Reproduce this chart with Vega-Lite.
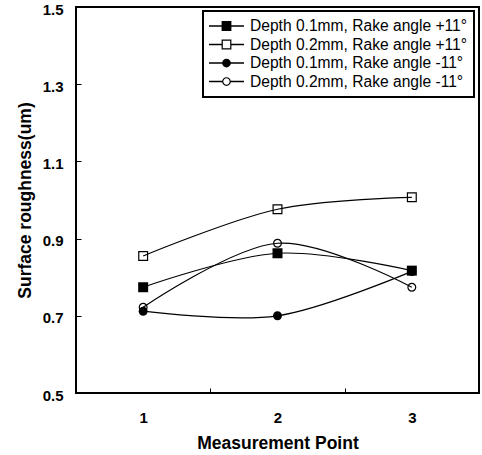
{
  "$schema": "https://vega.github.io/schema/vega-lite/v6.json",
  "width": 403,
  "height": 386,
  "autosize": "none",
  "padding": {"left": 76, "top": 7, "right": 3, "bottom": 62},
  "background": "white",
  "config": {
    "view": {"stroke": "black", "strokeWidth": 2},
    "font": "Liberation Sans",
    "legend": {"strokeWidth": 2},
    "axis": {"grid": false, "domain": false, "labelFont": "Liberation Sans", "labelFontWeight": "bold", "labelFontSize": 15, "labelColor": "black", "titleFont": "Liberation Sans", "titleFontWeight": "bold", "titleFontSize": 17.5, "titleColor": "black"}
  },
  "data": {
    "values": [
      {"point": 1, "roughness": 0.774, "series": "Depth 0.1mm, Rake angle +11°"},
      {"point": 2, "roughness": 0.862, "series": "Depth 0.1mm, Rake angle +11°"},
      {"point": 3, "roughness": 0.817, "series": "Depth 0.1mm, Rake angle +11°"},
      {"point": 1, "roughness": 0.855, "series": "Depth 0.2mm, Rake angle +11°"},
      {"point": 2, "roughness": 0.976, "series": "Depth 0.2mm, Rake angle +11°"},
      {"point": 3, "roughness": 1.007, "series": "Depth 0.2mm, Rake angle +11°"},
      {"point": 1, "roughness": 0.712, "series": "Depth 0.1mm, Rake angle -11°"},
      {"point": 2, "roughness": 0.700, "series": "Depth 0.1mm, Rake angle -11°"},
      {"point": 3, "roughness": 0.815, "series": "Depth 0.1mm, Rake angle -11°"},
      {"point": 1, "roughness": 0.722, "series": "Depth 0.2mm, Rake angle -11°"},
      {"point": 2, "roughness": 0.888, "series": "Depth 0.2mm, Rake angle -11°"},
      {"point": 3, "roughness": 0.774, "series": "Depth 0.2mm, Rake angle -11°"}
    ]
  },
  "encoding": {
    "x": {"field": "point", "type": "quantitative", "scale": {"domain": [0.5, 3.5], "nice": false, "zero": false}},
    "y": {"field": "roughness", "type": "quantitative", "scale": {"domain": [0.5, 1.5], "nice": false, "zero": false}}
  },
  "layer": [
    {
      "mark": {"type": "line", "interpolate": "cardinal", "stroke": "black", "strokeWidth": 1.2},
      "encoding": {
        "detail": {"field": "series"},
        "x": {"field": "point", "type": "quantitative", "axis": {"values": [1, 2, 3], "format": "d", "ticks": false, "labelPadding": 17, "title": "Measurement Point", "titlePadding": 9}},
        "y": {"field": "roughness", "type": "quantitative", "axis": {"values": [0.5, 0.7, 0.9, 1.1, 1.3, 1.5], "format": ".1f", "ticks": false, "labelPadding": 13, "labelOffset": 2, "title": "Surface roughness(um)", "titlePadding": 8}}
      }
    },
    {
      "mark": {"type": "point", "filled": true, "fill": "black", "size": 100, "opacity": 1},
      "encoding": {
        "x": {"field": "point", "type": "quantitative", "axis": {"values": [1.5, 2.5], "labels": false, "tickSize": -5, "tickColor": "black", "tickWidth": 1, "title": null, "orient": "bottom"}},
        "y": {"field": "roughness", "type": "quantitative", "axis": {"values": [0.5, 0.7, 0.9, 1.1, 1.3, 1.5], "labels": false, "tickSize": -5, "tickColor": "black", "tickWidth": 1, "title": null, "orient": "left"}},
        "shape": {
          "field": "series",
          "type": "nominal",
          "legend": null,
          "scale": {
            "domain": ["Depth 0.1mm, Rake angle +11°", "Depth 0.2mm, Rake angle +11°", "Depth 0.1mm, Rake angle -11°", "Depth 0.2mm, Rake angle -11°"],
            "range": [
              "M-1,-1H1V1H-1Z",
              "M-1,-1H1V1H-1ZM-0.76,-0.76V0.76H0.76V-0.76Z",
              "M-0.9,0A0.9,0.9 0 1,1 0.9,0A0.9,0.9 0 1,1 -0.9,0Z",
              "M-0.9,0A0.9,0.9 0 1,1 0.9,0A0.9,0.9 0 1,1 -0.9,0ZM-0.66,0A0.66,0.66 0 1,0 0.66,0A0.66,0.66 0 1,0 -0.66,0Z"
            ]
          }
        }
      }
    },
    {
      "mark": {"type": "point", "filled": true, "fill": "black", "opacity": 0},
      "encoding": {
        "x": {"field": "point", "type": "quantitative", "axis": null},
        "y": {"field": "roughness", "type": "quantitative", "axis": null},
        "shape": {
          "field": "series",
          "type": "nominal",
          "scale": {
            "domain": ["Depth 0.1mm, Rake angle +11°", "Depth 0.2mm, Rake angle +11°", "Depth 0.1mm, Rake angle -11°", "Depth 0.2mm, Rake angle -11°"],
            "range": [
              "M-1,-0.04H1V0.04H-1ZM-0.28,-0.28H0.28V0.28H-0.28Z",
              "M-1,-0.04H-0.28V0.04H-1ZM0.28,-0.04H1V0.04H0.28ZM-0.28,-0.28H0.28V0.28H-0.28ZM-0.21,-0.21V0.21H0.21V-0.21Z",
              "M-1,-0.04H1V0.04H-1ZM-0.25,0A0.25,0.25 0 1,1 0.25,0A0.25,0.25 0 1,1 -0.25,0Z",
              "M-1,-0.04H-0.24V0.04H-1ZM0.24,-0.04H1V0.04H0.24ZM-0.25,0A0.25,0.25 0 1,1 0.25,0A0.25,0.25 0 1,1 -0.25,0ZM-0.18,0A0.18,0.18 0 1,0 0.18,0A0.18,0.18 0 1,0 -0.18,0Z"
            ]
          },
          "legend": {
            "title": null,
            "orient": "none",
            "legendX": 127,
            "legendY": 4,
            "symbolSize": 1225,
            "symbolOpacity": 1,
            "symbolFillColor": "black",
            "symbolStrokeWidth": 0,
            "clipHeight": 18,
            "rowPadding": 0.5,
            "labelFont": "Liberation Sans",
            "labelFontSize": 15.6,
            "labelColor": "black",
            "labelOffset": 6,
            "labelLimit": 400,
            "padding": 6,
            "strokeColor": "black",
            "fillColor": "white"
          }
        }
      }
    }
  ],
  "resolve": {"scale": {"shape": "independent"}, "axis": {"x": "independent", "y": "independent"}}
}
